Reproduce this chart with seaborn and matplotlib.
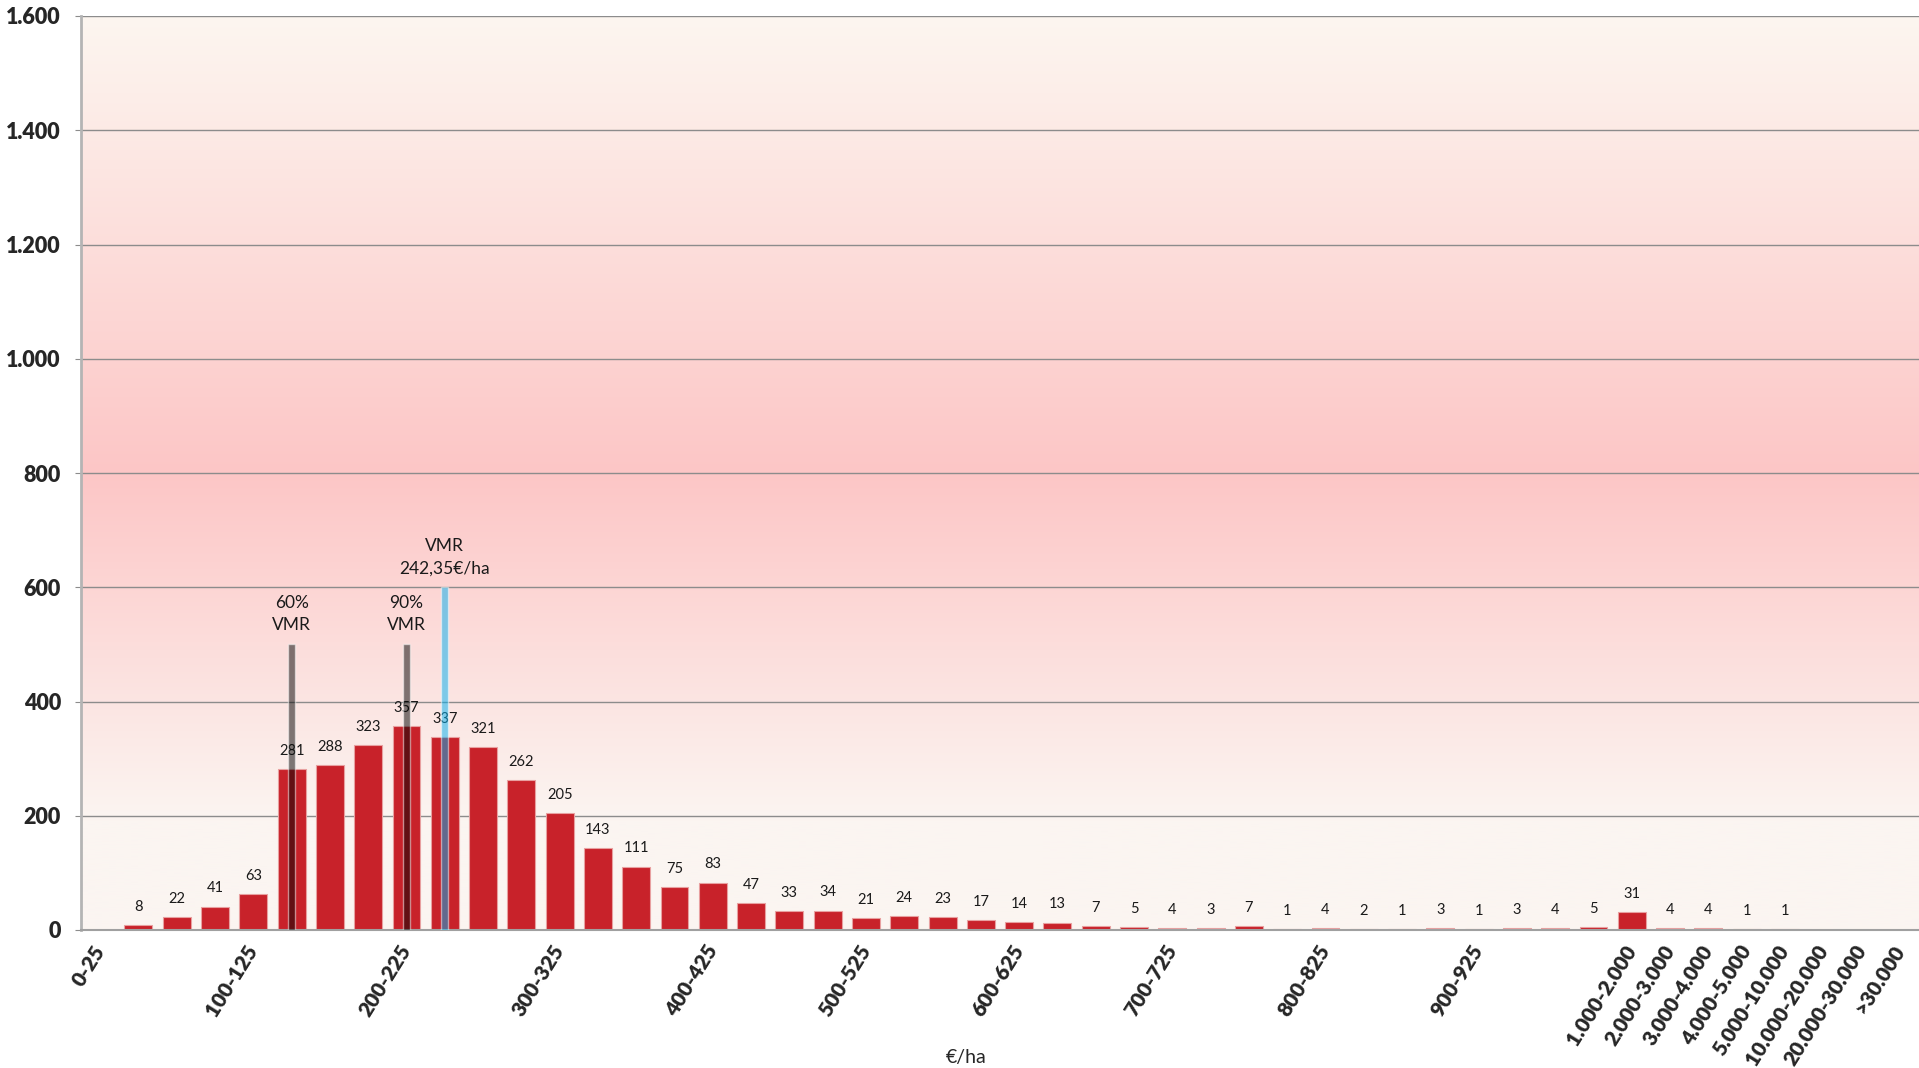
import numpy as np
import pandas as pd
import matplotlib
matplotlib.use("Agg")
import matplotlib.pyplot as plt
from matplotlib.ticker import FuncFormatter
from matplotlib.colors import to_rgb
import seaborn as sns

# Classes de valeur (€/ha)
categories = [f"{i * 25}-{(i + 1) * 25}" for i in range(39)] + [
    "975-1.000", "1.000-2.000", "2.000-3.000", "3.000-4.000", "4.000-5.000",
    "5.000-10.000", "10.000-20.000", "20.000-30.000", ">30.000"]

# Nombre de parcelles par classe (None = pas de barre)
counts = [None, 8, 22, 41, 63, 281, 288, 323, 357, 337, 321, 262, 205, 143, 111,
          75, 83, 47, 33, 34, 21, 24, 23, 17, 14, 13, 7, 5, 4, 3, 7, 1, 4, 2, 1,
          3, 1, 3, 4, 5, 31, 4, 4, 1, 1, None, None, None]

# Étiquettes affichées sur l'axe des x
shown_labels = ["0-25", "100-125", "200-225", "300-325", "400-425", "500-525",
                "600-625", "700-725", "800-825", "900-925", "1.000-2.000",
                "2.000-3.000", "3.000-4.000", "4.000-5.000", "5.000-10.000",
                "10.000-20.000", "20.000-30.000", ">30.000"]

# Repères VMR (60%, 90% et VMR = 242,35 €/ha)
marker_cats = ["125-150", "200-225", "225-250"]
marker_heights = [500, 500, 600]
marker_texts = ["60%\nVMR", "90%\nVMR", "VMR\n242,35€/ha"]
marker_colors = ["black", "black", "#00B0F0"]

df = pd.DataFrame({"classe": categories, "n": counts}).dropna()

sns.set_style("white")
plt.rcParams["font.family"] = ["Lato", "DejaVu Sans"]

fig = plt.figure(figsize=(19.19, 10.68), dpi=100)
ax = fig.add_axes([81 / 1919, (1068 - 930) / 1068, (1919 - 81) / 1919, (930 - 16) / 1068])

# Fond en dégradé (crème -> rose -> crème)
cream_bot = np.array(to_rgb("#fbf5f1"))
cream_top = np.array(to_rgb("#fcf6f0"))
pink = np.array(to_rgb("#fdc6c6"))
t = np.linspace(0, 1, 400)
grad = np.zeros((400, 1, 3))
for k, v in enumerate(t):
    if v < 0.12:
        c = cream_bot
    elif v < 0.5:
        f = (v - 0.12) / 0.38
        c = cream_bot + (pink - cream_bot) * f
    else:
        f = (v - 0.5) / 0.5
        c = pink + (cream_top - pink) * f
    grad[k, 0] = c
ax.imshow(grad, extent=(-0.5, len(categories) - 0.5, 0, 1600), origin="lower",
          aspect="auto", zorder=0)

sns.barplot(data=df, x="classe", y="n", order=categories, color="#c8222a",
            saturation=1, width=0.73, edgecolor="#e8a0a0", linewidth=0.8,
            ax=ax, zorder=2)
ax.bar_label(ax.containers[0], labels=[str(int(v)) for v in df["n"]],
             padding=8, fontsize=10.5, color="#1a1a1a")

# Lignes verticales des repères
for cat, h, txt, col in zip(marker_cats, marker_heights, marker_texts, marker_colors):
    xpos = categories.index(cat)
    ax.bar(xpos, h, width=0.18, color=col, alpha=0.5, zorder=3)
    ax.annotate(txt, (xpos, h), xytext=(0, 8), textcoords="offset points",
                ha="center", va="bottom", fontsize=12.5, linespacing=1.45,
                color="#1a1a1a")

ax.set_xlim(-0.5, len(categories) - 0.5)
ax.set_ylim(0, 1600)
ax.set_yticks(range(0, 1601, 200))
ax.yaxis.set_major_formatter(FuncFormatter(lambda v, p: f"{int(v):,}".replace(",", ".")))
ax.yaxis.grid(True, color="#8c8c8c", linewidth=1)
ax.set_axisbelow(True)

ax.set_xticks(range(len(categories)))
ax.set_xticklabels([c if c in shown_labels else "" for c in categories])
plt.setp(ax.get_xticklabels(), rotation=58, ha="right", va="center",
         rotation_mode="anchor", fontweight="heavy", fontsize=15)
plt.setp(ax.get_yticklabels(), fontweight="heavy", fontsize=15.5)
ax.tick_params(axis="x", length=0, pad=12)
ax.tick_params(axis="y", length=4.5, color="#8c8c8c", pad=10, left=True)

for s in ["top", "right"]:
    ax.spines[s].set_visible(False)
ax.spines["left"].set_color("#b4b4b4")
ax.spines["left"].set_linewidth(2)
ax.spines["bottom"].set_color("#a0a0a0")
ax.spines["bottom"].set_linewidth(1.5)

ax.set_ylabel("")
ax.set_xlabel("€/ha", fontsize=14)
ax.xaxis.set_label_coords(0.4815, -0.139)
ax.xaxis.label.set_va("center")

fig.savefig("out.png", dpi=100)
